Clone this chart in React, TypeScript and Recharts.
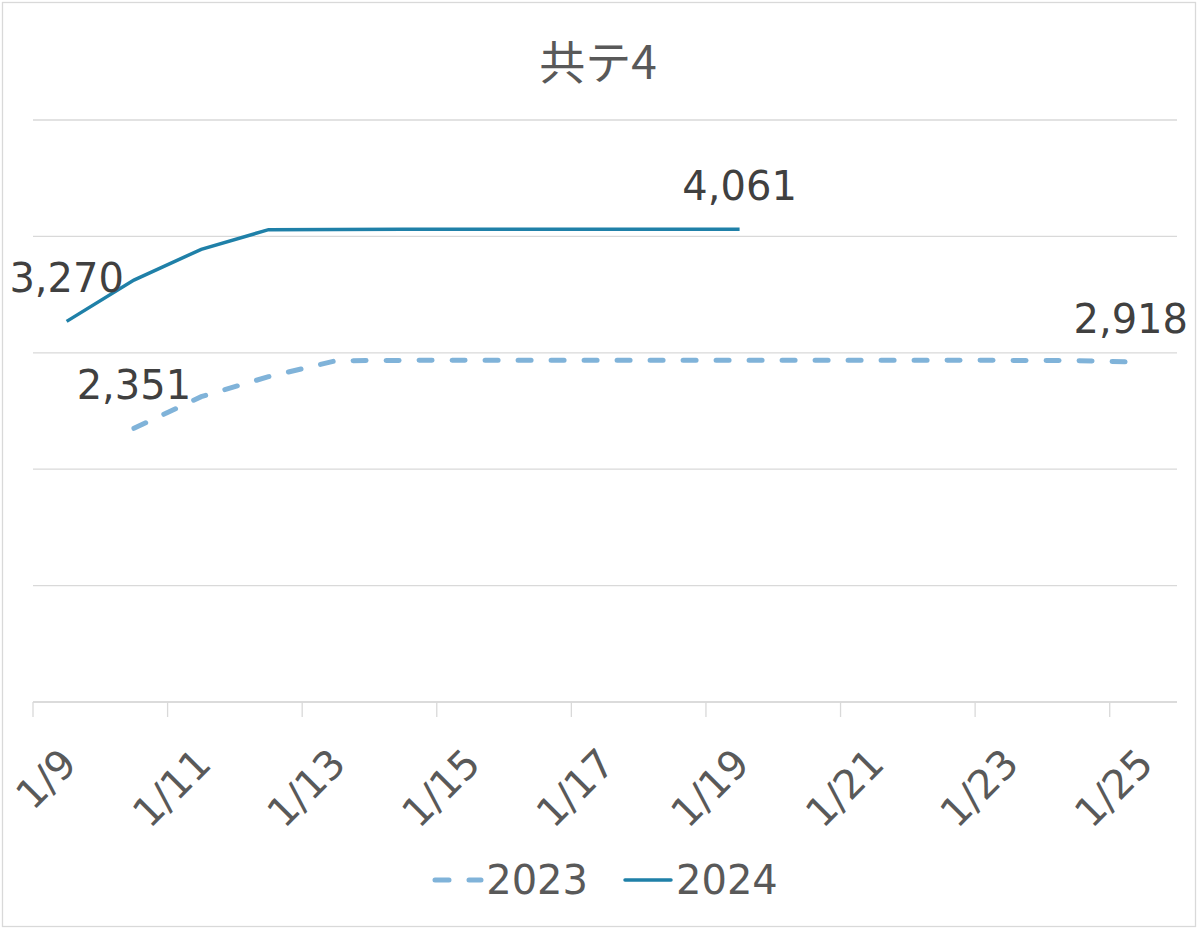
import React from 'react';
import { LineChart, Line, XAxis, YAxis, CartesianGrid, Legend, LabelList } from 'recharts';

const dates = ['1/9', '1/10', '1/11', '1/12', '1/13', '1/14', '1/15', '1/16', '1/17', '1/18', '1/19', '1/20', '1/21', '1/22', '1/23', '1/24', '1/25'];
const values2023: (number | null)[] = [null, 2351, 2623, 2795, 2932, 2935, 2936, 2936, 2936, 2936, 2936, 2936, 2936, 2936, 2935, 2933, 2918];
const values2024: (number | null)[] = [3270, 3625, 3889, 4058, 4060, 4061, 4061, 4061, 4061, 4061, 4061, null, null, null, null, null, null];
const yTicks = [0, 1000, 2000, 3000, 4000, 5000];
const seriesNames = ['2023', '2024'];
const title = '共テ4';

const W = 1200;
const H = 930;
const M = { top: 120, right: 23, left: 33, bottom: 20 };
const PLOT_W = W - M.left - M.right;
const FONT = '"DejaVu Sans", Verdana, sans-serif';
const C2023 = '#80B3D9';
const C2024 = '#1F80A8';
const GRID = '#D9D9D9';
const TEXT = '#595959';
const LABEL = '#404040';

const data = dates.map((d, i) => ({ date: d, y2023: values2023[i], y2024: values2024[i] }));

const firstIdx = (arr: (number | null)[]) => arr.findIndex((v) => v != null);
const lastIdx = (arr: (number | null)[]) => {
  for (let i = arr.length - 1; i >= 0; i--) if (arr[i] != null) return i;
  return -1;
};

const makeLabel = (arr: (number | null)[]) => (props: any) => {
  const { x, y, value, index } = props;
  if (value == null) return null;
  if (index !== firstIdx(arr) && index !== lastIdx(arr)) return null;
  const txt = Number(value).toLocaleString('en-US');
  let w = 0;
  for (const ch of txt) w += ch === ',' ? 0.318 : 0.636;
  w *= 40;
  let cx = x;
  if (cx + w / 2 > W - 12) cx = W - 12 - w / 2;
  return (
    <text x={cx} y={y - 29} textAnchor="middle" fontSize={40} fontFamily={FONT} fill={LABEL}>
      {txt}
    </text>
  );
};

const Tick = (props: any) => {
  const { x, y, payload } = props;
  const bw = PLOT_W / dates.length;
  const bx = x - bw / 2;
  return (
    <g>
      <line x1={bx} x2={bx} y1={y} y2={y + 15} stroke={GRID} strokeWidth={1.3} />
      <text
        x={x + 12}
        y={y + 64}
        textAnchor="end"
        fontSize={40}
        fontFamily={FONT}
        fill={TEXT}
        transform={`rotate(-45, ${x + 12}, ${y + 64})`}
      >
        {payload.value}
      </text>
    </g>
  );
};

const LegendContent = () => (
  <div
    style={{
      display: 'flex',
      justifyContent: 'center',
      alignItems: 'center',
      height: 60,
      fontFamily: FONT,
      fontSize: 40,
      color: TEXT,
    }}
  >
    {seriesNames.map((name, i) => (
      <div key={name} style={{ display: 'flex', alignItems: 'center', marginLeft: i === 0 ? 0 : 34 }}>
        <svg width={52} height={12} style={{ marginRight: 2 }}>
          {i === 0 ? (
            <line x1={3} x2={49} y1={6} y2={6} stroke={C2023} strokeWidth={5} strokeDasharray="14 20" strokeLinecap="round" />
          ) : (
            <line x1={3} x2={49} y1={6} y2={6} stroke={C2024} strokeWidth={3.5} strokeLinecap="round" />
          )}
        </svg>
        <span>{name}</span>
      </div>
    ))}
  </div>
);

export default function App() {
  return (
    <div style={{ position: 'absolute', left: 0, top: 0, width: W, height: H, background: '#fff' }}>
      <svg width={W} height={H} style={{ position: 'absolute', left: 0, top: 0 }}>
        <rect x={2.5} y={2.5} width={1193} height={924} fill="#fff" stroke={GRID} strokeWidth={1.3} />
        <text x={598} y={79} textAnchor="middle" fontSize={46} fontFamily='"Noto Sans CJK JP", sans-serif' fill={TEXT}>
          {title}
        </text>
      </svg>
      <div style={{ position: 'absolute', left: 0, top: 0 }}>
        <LineChart width={W} height={H} data={data} margin={M}>
          <CartesianGrid vertical={false} stroke={GRID} strokeWidth={1.3} />
          <XAxis
            dataKey="date"
            scale="band"
            interval={1}
            height={148}
            tickSize={0}
            tickMargin={0}
            tickLine={false}
            axisLine={{ stroke: GRID, strokeWidth: 1.3 }}
            tick={<Tick />}
          />
          <YAxis hide domain={[0, 5000]} ticks={yTicks} />
          <Legend verticalAlign="bottom" content={<LegendContent />} />
          <Line
            dataKey="y2023"
            name="2023"
            stroke={C2023}
            strokeWidth={5}
            strokeDasharray="13 20"
            strokeLinecap="round"
            dot={false}
            isAnimationActive={false}
          >
            <LabelList dataKey="y2023" content={makeLabel(values2023)} />
          </Line>
          <Line
            dataKey="y2024"
            name="2024"
            stroke={C2024}
            strokeWidth={3.5}
            dot={false}
            isAnimationActive={false}
          >
            <LabelList dataKey="y2024" content={makeLabel(values2024)} />
          </Line>
        </LineChart>
      </div>
    </div>
  );
}
